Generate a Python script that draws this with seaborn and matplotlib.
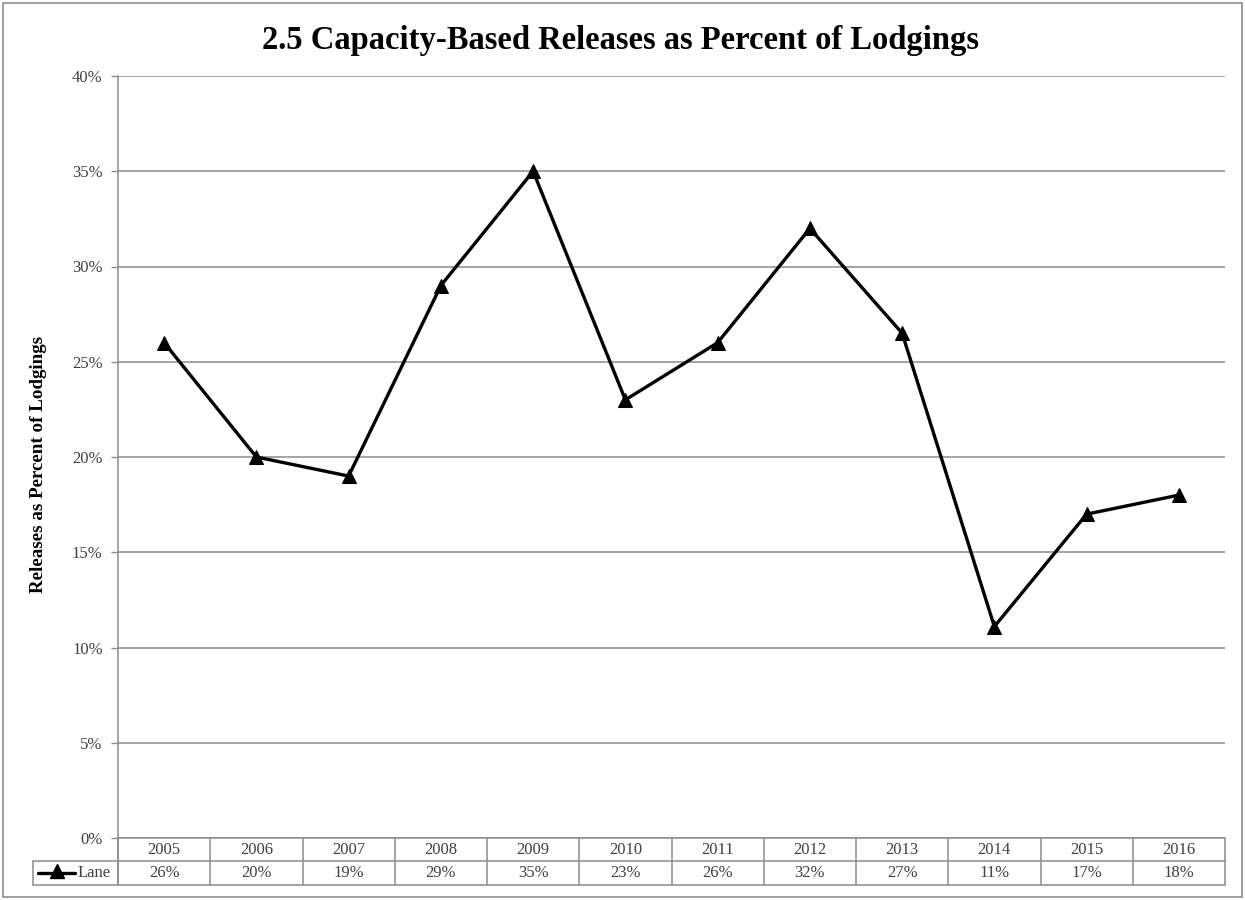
import matplotlib
matplotlib.use("Agg")
import matplotlib.pyplot as plt
import matplotlib.transforms as mtransforms
from matplotlib.patches import Rectangle
from matplotlib.lines import Line2D
import seaborn as sns
import pandas as pd

# ── data ─────────────────────────────────────────────────────────────────────
years = ["2005", "2006", "2007", "2008", "2009", "2010",
         "2011", "2012", "2013", "2014", "2015", "2016"]
lane = [26, 20, 19, 29, 35, 23, 26, 32, 26.5, 11.1, 17, 18]
lane_labels = ["26%", "20%", "19%", "29%", "35%", "23%",
               "26%", "32%", "27%", "11%", "17%", "18%"]
y_ticks = [0, 5, 10, 15, 20, 25, 30, 35, 40]

df = pd.DataFrame({"pos": range(len(years)), "value": lane})

sns.set_theme(style="white")
plt.rcParams["font.family"] = ["Liberation Serif", "DejaVu Serif"]

W, H = 1245, 900
fig = plt.figure(figsize=(W / 100, H / 100), dpi=100)
fig.patch.set_facecolor("white")

# plot area in pixels: x 118..1225, y 76..838
ax = fig.add_axes([118 / W, 1 - 838 / H, (1225 - 118) / W, (838 - 76) / H])
ax.set_facecolor("white")

sns.lineplot(data=df, x="pos", y="value", ax=ax, color="black", linewidth=2.4,
             marker="^", markersize=10, markeredgecolor="black", legend=False)

ax.set_xlim(-0.5, len(years) - 0.5)
ax.set_ylim(0, 40)
ax.set_yticks(y_ticks)
ax.set_yticklabels([f"{t}%" for t in y_ticks], fontsize=12, color="#404040")
ax.set_xticks([])
ax.set_xlabel("")
ax.set_ylabel("Releases as Percent of Lodgings", fontsize=13.7, fontweight="bold",
              color="black")
ax.yaxis.set_label_coords((47 - 118) / (1225 - 118), 0.49)
ax.yaxis.grid(True, color="#8c8c8c", linewidth=1.1)
ax.set_axisbelow(True)
ax.tick_params(axis="y", which="major", direction="out", length=5, width=1,
               color="#8c8c8c", pad=6, left=True)
for side in ("top", "right", "bottom"):
    ax.spines[side].set_visible(False)
ax.spines["left"].set_color("#8c8c8c")
ax.spines["left"].set_linewidth(1.1)

# ── data table below the plot ────────────────────────────────────────────────
tr = mtransforms.blended_transform_factory(ax.transData, fig.transFigure)
trf = fig.transFigure
gray = "#8c8c8c"
r0, r1, r2 = 1 - 838 / H, 1 - 861 / H, 1 - 885 / H
x_left = 33 / W
x_axis = 118 / W

# horizontal lines
ax.plot([-0.5, len(years) - 0.5], [r0, r0], transform=tr, color=gray, lw=1.1, clip_on=False)
for yy in (r1, r2):
    fig.add_artist(Line2D([x_left, 1225 / W], [yy, yy], transform=trf, color=gray, lw=1.1))
fig.add_artist(Line2D([x_left, x_left], [r1, r2], transform=trf, color=gray, lw=1.1))
fig.add_artist(Line2D([x_axis, x_axis], [r0, r2], transform=trf, color=gray, lw=1.1))
for i in range(len(years) + 1):
    ax.plot([i - 0.5, i - 0.5], [r0, r2], transform=tr, color=gray, lw=1.1, clip_on=False)

for i, (yr, lab) in enumerate(zip(years, lane_labels)):
    ax.text(i, (r0 + r1) / 2, yr, transform=tr, ha="center", va="center",
            fontsize=12, color="#404040")
    ax.text(i, (r1 + r2) / 2, lab, transform=tr, ha="center", va="center",
            fontsize=12, color="#404040")

# legend key in the table
ym = (r1 + r2) / 2
fig.add_artist(Line2D([38 / W, 75 / W], [ym, ym], transform=trf, color="black", lw=2.4))
fig.add_artist(Line2D([57 / W], [ym + 2 / H], transform=trf, color="black", marker="^",
                      markersize=10, linestyle="none"))
fig.text(78 / W, ym, "Lane", ha="left", va="center", fontsize=12, color="#404040")

# title
fig.text(620 / W, 1 - 40 / H, "2.5 Capacity-Based Releases as Percent of Lodgings",
         ha="center", va="center", fontsize=23.5, fontweight="bold", color="black")

# outer chart border
fig.add_artist(Rectangle((3 / W, 3 / H), 1 - 6 / W, 1 - 6 / H, transform=trf,
                         fill=False, edgecolor=gray, lw=1.2))

fig.savefig("out.png", dpi=100, facecolor=fig.get_facecolor())
